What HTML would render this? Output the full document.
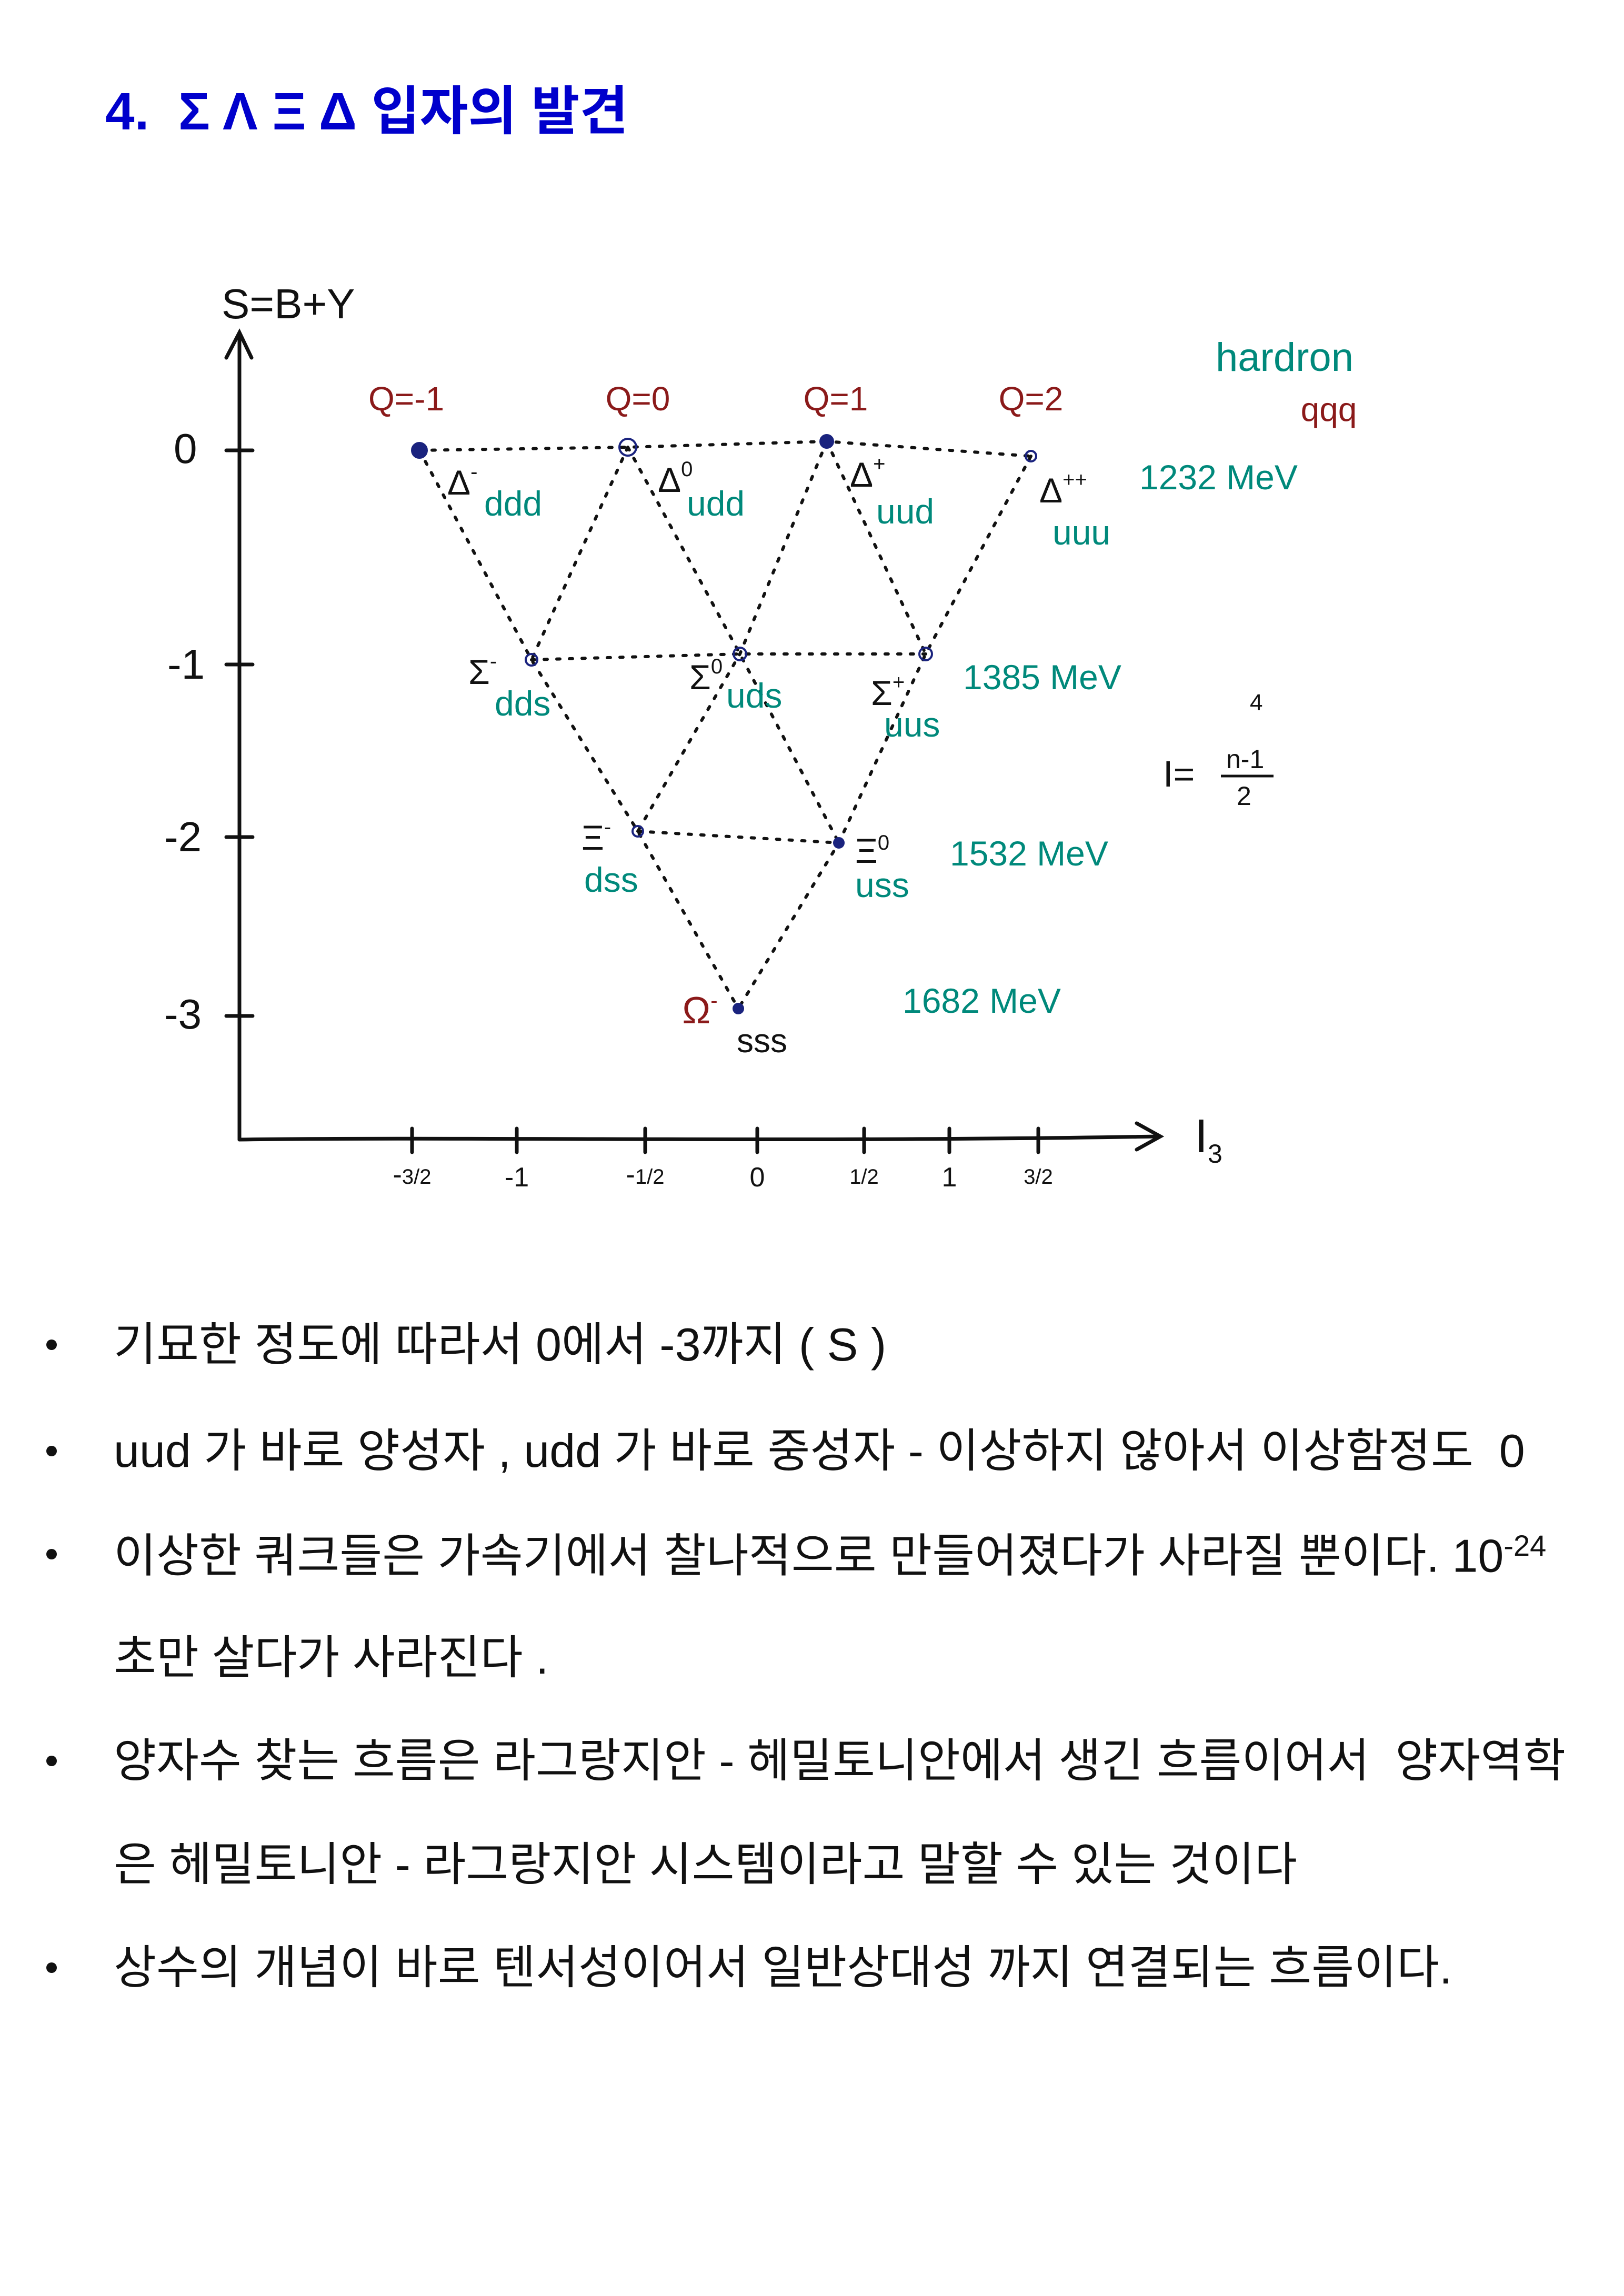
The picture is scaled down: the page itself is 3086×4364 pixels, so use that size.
<!DOCTYPE html>
<html><head><meta charset="utf-8">
<style>
html,body{margin:0;padding:0;background:#fff;}
body{width:3086px;height:4364px;position:relative;overflow:hidden;font-family:"Liberation Sans","Noto Sans CJK KR",sans-serif;}
h1{position:absolute;left:200px;top:130px;margin:0;font-size:100px;font-weight:bold;color:#0000cc;font-family:"Liberation Sans","Noto Sans CJK KR",sans-serif;white-space:nowrap;}
.b{position:absolute;left:216px;font-size:88px;color:#111;white-space:nowrap;font-family:"Liberation Sans","Noto Sans CJK KR",sans-serif;line-height:1;}
.dot{position:absolute;left:88px;width:20px;height:20px;border-radius:50%;background:#111;}
svg{position:absolute;left:0;top:0;}
</style></head><body>
<h1>4.&nbsp; Σ Λ Ξ Δ 입자의 발견</h1>
<svg width="3086" height="2400" viewBox="0 0 3086 2400" font-family="Liberation Sans, sans-serif">
<g stroke="#111" stroke-width="7" fill="none" stroke-linecap="round">
<path d="M455 2166 L455 640 M430 680 L455 632 L478 680"/>
<path d="M455 2166 C900 2160 1500 2172 2200 2160 M2160 2135 L2205 2160 L2160 2185"/>
<path d="M430 856 L480 856 M430 1263 L480 1263 M430 1591 L480 1591 M430 1931 L480 1931"/>
<path d="M783 2145 L783 2190 M982 2145 L982 2190 M1226 2145 L1226 2190 M1439 2145 L1439 2190 M1642 2145 L1642 2190 M1804 2145 L1804 2190 M1973 2145 L1973 2190"/>
</g>
<g stroke="#111" stroke-width="6" fill="none" stroke-dasharray="6 18" stroke-linecap="round">
<path d="M797 856 L1193 850 L1571 839 L1959 867"/>
<path d="M1010 1254 L1406 1243 L1759 1243"/>
<path d="M1212 1580 L1594 1602"/>
<path d="M797 856 L1010 1254 L1212 1580 L1403 1917"/>
<path d="M1193 850 L1010 1254"/>
<path d="M1193 850 L1406 1243 L1594 1602"/>
<path d="M1571 839 L1406 1243 L1212 1580"/>
<path d="M1571 839 L1759 1243"/>
<path d="M1959 867 L1759 1243 L1594 1602 L1403 1917"/>
</g>
<g fill="#1a237e" stroke="#1a237e" stroke-width="4">
<circle cx="797" cy="856" r="14"/><circle cx="1193" cy="850" r="16" fill="none"/><circle cx="1571" cy="839" r="12"/><circle cx="1959" cy="867" r="10" fill="none"/>
<circle cx="1010" cy="1254" r="11" fill="none"/><circle cx="1406" cy="1243" r="12" fill="none"/><circle cx="1759" cy="1243" r="12" fill="none"/>
<circle cx="1212" cy="1580" r="10" fill="none"/><circle cx="1594" cy="1602" r="9"/><circle cx="1403" cy="1917" r="9"/>
</g>
<g fill="#111" font-size="80">
<text x="421" y="605">S=B+Y</text>
<text x="330" y="880">0</text><text x="318" y="1290">-1</text><text x="312" y="1618">-2</text><text x="312" y="1955">-3</text>
<text x="2270" y="2190" font-size="90">I<tspan font-size="50" dy="20">3</tspan></text>
</g>
<g fill="#111" font-size="52" text-anchor="middle">
<text x="783" y="2250">-<tspan font-size="40">3/2</tspan></text>
<text x="982" y="2255">-1</text>
<text x="1226" y="2250">-<tspan font-size="40">1/2</tspan></text>
<text x="1439" y="2255">0</text>
<text x="1642" y="2250" font-size="40">1/2</text>
<text x="1804" y="2255">1</text>
<text x="1973" y="2250" font-size="40">3/2</text>
</g>
<g fill="#8b1a1a" font-size="64" text-anchor="middle">
<text x="772" y="780">Q=-1</text><text x="1212" y="780">Q=0</text><text x="1588" y="780">Q=1</text><text x="1959" y="780">Q=2</text>
<text x="2525" y="800">qqq</text>
<text x="1330" y="1945" font-size="72">Ω<tspan font-size="40" dy="-30">-</tspan></text>
</g>
<g fill="#111" font-size="66">
<text x="850" y="940">Δ<tspan font-size="40" dy="-30">-</tspan></text>
<text x="1250" y="935">Δ<tspan font-size="40" dy="-30">0</tspan></text>
<text x="1615" y="925">Δ<tspan font-size="40" dy="-30">+</tspan></text>
<text x="1975" y="955">Δ<tspan font-size="40" dy="-30">++</tspan></text>
<text x="890" y="1300">Σ<tspan font-size="40" dy="-30">-</tspan></text>
<text x="1310" y="1310">Σ<tspan font-size="40" dy="-30">0</tspan></text>
<text x="1655" y="1340">Σ<tspan font-size="40" dy="-30">+</tspan></text>
<text x="1105" y="1615">Ξ<tspan font-size="40" dy="-30">-</tspan></text>
<text x="1625" y="1640">Ξ<tspan font-size="40" dy="-25">0</tspan></text>
<text x="1400" y="2000" font-size="64">sss</text>
<text x="2210" y="1495" font-size="70">I=</text>
<text x="2330" y="1460" font-size="50">n-1</text>
<path d="M2320 1475 L2420 1475" stroke="#111" stroke-width="5"/>
<text x="2350" y="1530" font-size="50">2</text>
<text x="2375" y="1350" font-size="44">4</text>
</g>
<g fill="#00897b" font-size="66">
<text x="920" y="980">ddd</text><text x="1305" y="980">udd</text><text x="1665" y="995">uud</text><text x="2000" y="1035">uuu</text>
<text x="940" y="1360">dds</text><text x="1380" y="1345">uds</text><text x="1680" y="1400">uus</text>
<text x="1110" y="1695">dss</text><text x="1625" y="1705">uss</text>
<text x="2165" y="930">1232 MeV</text>
<text x="1830" y="1310">1385 MeV</text>
<text x="1805" y="1645">1532 MeV</text>
<text x="1715" y="1925">1682 MeV</text>
<text x="2310" y="705" font-size="76">hardron</text>
</g>
</svg>
<div class="dot" style="top:2546px"></div><div class="b" style="top:2512px">기묘한 정도에 따라서 0에서 -3까지 ( S )</div>
<div class="dot" style="top:2748px"></div><div class="b" style="top:2714px">uud 가 바로 양성자 , udd 가 바로 중성자 - 이상하지 않아서 이상함정도&nbsp; 0</div>
<div class="dot" style="top:2944px"></div><div class="b" style="top:2910px">이상한 쿼크들은 가속기에서 찰나적으로 만들어졌다가 사라질 뿐이다. 10<sup style="font-size:56px">-24</sup></div>
<div class="b" style="top:3107px">초만 살다가 사라진다 .</div>
<div class="dot" style="top:3337px"></div><div class="b" style="top:3303px">양자수 찾는 흐름은 라그랑지안 - 헤밀토니안에서 생긴 흐름이어서&nbsp; 양자역학</div>
<div class="b" style="top:3500px">은 헤밀토니안 - 라그랑지안 시스템이라고 말할 수 있는 것이다</div>
<div class="dot" style="top:3730px"></div><div class="b" style="top:3696px">상수의 개념이 바로 텐서성이어서 일반상대성 까지 연결되는 흐름이다.</div>
</body></html>
